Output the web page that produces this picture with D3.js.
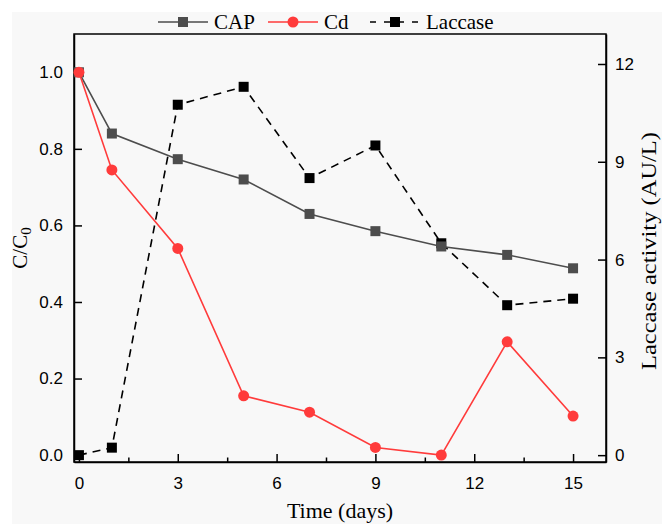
<!DOCTYPE html>
<html>
<head>
<meta charset="utf-8">
<script src="https://cdn.jsdelivr.net/npm/d3@7"></script>
<style>
  body { margin: 0; background: #fff; }
  svg { display: block; font-family: "Liberation Serif", "Times New Roman", serif; }
</style>
</head>
<body>
<div id="chart"></div>
<script>
const days = [0, 1, 3, 5, 7, 9, 11, 13, 15];
const capValues = [1.0, 0.84, 0.773, 0.72, 0.63, 0.585, 0.545, 0.523, 0.488];
const cdValues = [1.0, 0.745, 0.54, 0.155, 0.112, 0.02, 0.0, 0.296, 0.102];
const laccaseValues = [0, 0.23, 10.75, 11.3, 8.5, 9.5, 6.5, 4.6, 4.8];
const xTicks = [0, 3, 6, 9, 12, 15];
const xMinor = [1.5, 4.5, 7.5, 10.5, 13.5];
const yTicks = [0, 0.2, 0.4, 0.6, 0.8, 1.0];
const y2Ticks = [0, 3, 6, 9, 12];

const width = 662, height = 524;
const margin = {top: 34, right: 56, bottom: 62, left: 74};

var svg = d3.select("#chart").append("svg")
    .attr("width", width)
    .attr("height", height);

svg.append("rect").attr("width", width).attr("height", height).attr("fill", "#fff");
svg.append("rect").attr("x", 12).attr("y", 12).attr("width", width - 12).attr("height", height - 12).attr("fill", "#f8f8f8");

const x = d3.scaleLinear().domain([-0.15, 16]).range([margin.left, width - margin.right]);
const y = d3.scaleLinear().domain([-0.018, 1.1]).range([height - margin.bottom, margin.top]);
const y2 = d3.scaleLinear().domain([-0.21, 12.92]).range([height - margin.bottom, margin.top]);

const plotBottom = height - margin.bottom, plotRight = width - margin.right;

// axes
svg.append("g")
    .attr("transform", `translate(0,${plotBottom})`)
    .call(d3.axisBottom(x).tickValues(xTicks).tickSizeInner(-8).tickSizeOuter(0).tickPadding(15).tickFormat(d3.format("d")))
    .call(g => g.selectAll(".tick text").attr("font-size", 17).attr("fill", "#000"));
svg.append("g")
    .attr("transform", `translate(0,${plotBottom})`)
    .call(d3.axisBottom(x).tickValues(xMinor).tickSizeInner(-4.5).tickSizeOuter(0).tickFormat(""))
    .call(g => g.select(".domain").remove());

svg.append("g")
    .attr("transform", `translate(${margin.left},0)`)
    .call(d3.axisLeft(y).tickValues(yTicks).tickSizeInner(-8).tickSizeOuter(0).tickPadding(11).tickFormat(d3.format(".1f")))
    .call(g => g.selectAll(".tick text").attr("font-size", 17).attr("fill", "#000"));

svg.append("g")
    .attr("transform", `translate(${plotRight},0)`)
    .call(d3.axisRight(y2).tickValues(y2Ticks).tickSizeInner(-8).tickSizeOuter(0).tickPadding(9))
    .call(g => g.selectAll(".tick text").attr("font-size", 17).attr("fill", "#000"));

svg.selectAll(".domain, .tick line").attr("stroke", "#000").attr("stroke-width", 1.5);

// frame
svg.append("rect")
    .attr("x", margin.left).attr("y", margin.top)
    .attr("width", plotRight - margin.left).attr("height", plotBottom - margin.top)
    .attr("fill", "none").attr("stroke", "#000").attr("stroke-width", 1.5);

const series = [
    {name: "CAP", values: capValues, scale: y, color: "#4d4d4d", dash: null, shape: "square"},
    {name: "Cd", values: cdValues, scale: y, color: "#ff3b3b", dash: null, shape: "circle"},
    {name: "Laccase", values: laccaseValues, scale: y2, color: "#000", dash: "8,6", shape: "square"}
];

function drawMarker(g, shape, color, cx, cy) {
    if (shape === "circle") {
        g.append("circle").attr("cx", cx).attr("cy", cy).attr("r", 5.5).attr("fill", color);
    } else {
        g.append("rect").attr("x", cx - 5).attr("y", cy - 5).attr("width", 10).attr("height", 10).attr("fill", color);
    }
}

const plot = svg.append("g");
[series[2], series[0], series[1]].forEach(s => {
    const line = d3.line().x((d, i) => x(days[i])).y(d => s.scale(d));
    plot.append("path")
        .attr("d", line(s.values))
        .attr("fill", "none")
        .attr("stroke", s.color)
        .attr("stroke-width", 1.6)
        .attr("stroke-dasharray", s.dash);
    s.values.forEach((d, i) => drawMarker(plot, s.shape, s.color, x(days[i]), s.scale(d)));
});

// legend
const legendX = [158, 268, 370];
const legend = svg.append("g");
series.forEach((s, i) => {
    const lx = legendX[i], ly = 22;
    legend.append("line")
        .attr("x1", lx).attr("x2", lx + 50).attr("y1", ly).attr("y2", ly)
        .attr("stroke", s.color).attr("stroke-width", 1.6)
        .attr("stroke-dasharray", s.dash ? "6,8" : null);
    drawMarker(legend, s.shape, s.color, lx + 25, ly);
    legend.append("text")
        .attr("x", lx + 56).attr("y", ly + 7)
        .attr("font-size", 21)
        .text(s.name);
});

// axis titles
svg.append("text")
    .attr("x", (margin.left + plotRight) / 2).attr("y", 518)
    .attr("text-anchor", "middle").attr("font-size", 22)
    .text("Time (days)");

const yl = svg.append("text")
    .attr("transform", `translate(27,248) rotate(-90)`)
    .attr("text-anchor", "middle").attr("font-size", 21);
yl.append("tspan").text("C/C");
yl.append("tspan").attr("font-size", 15).attr("dy", 4).text("0");

svg.append("text")
    .attr("transform", `translate(656,251) rotate(-90)`)
    .attr("text-anchor", "middle").attr("font-size", 21)
    .attr("textLength", 238).attr("lengthAdjust", "spacingAndGlyphs")
    .text("Laccase activity (AU/L)");
</script>
</body>
</html>
